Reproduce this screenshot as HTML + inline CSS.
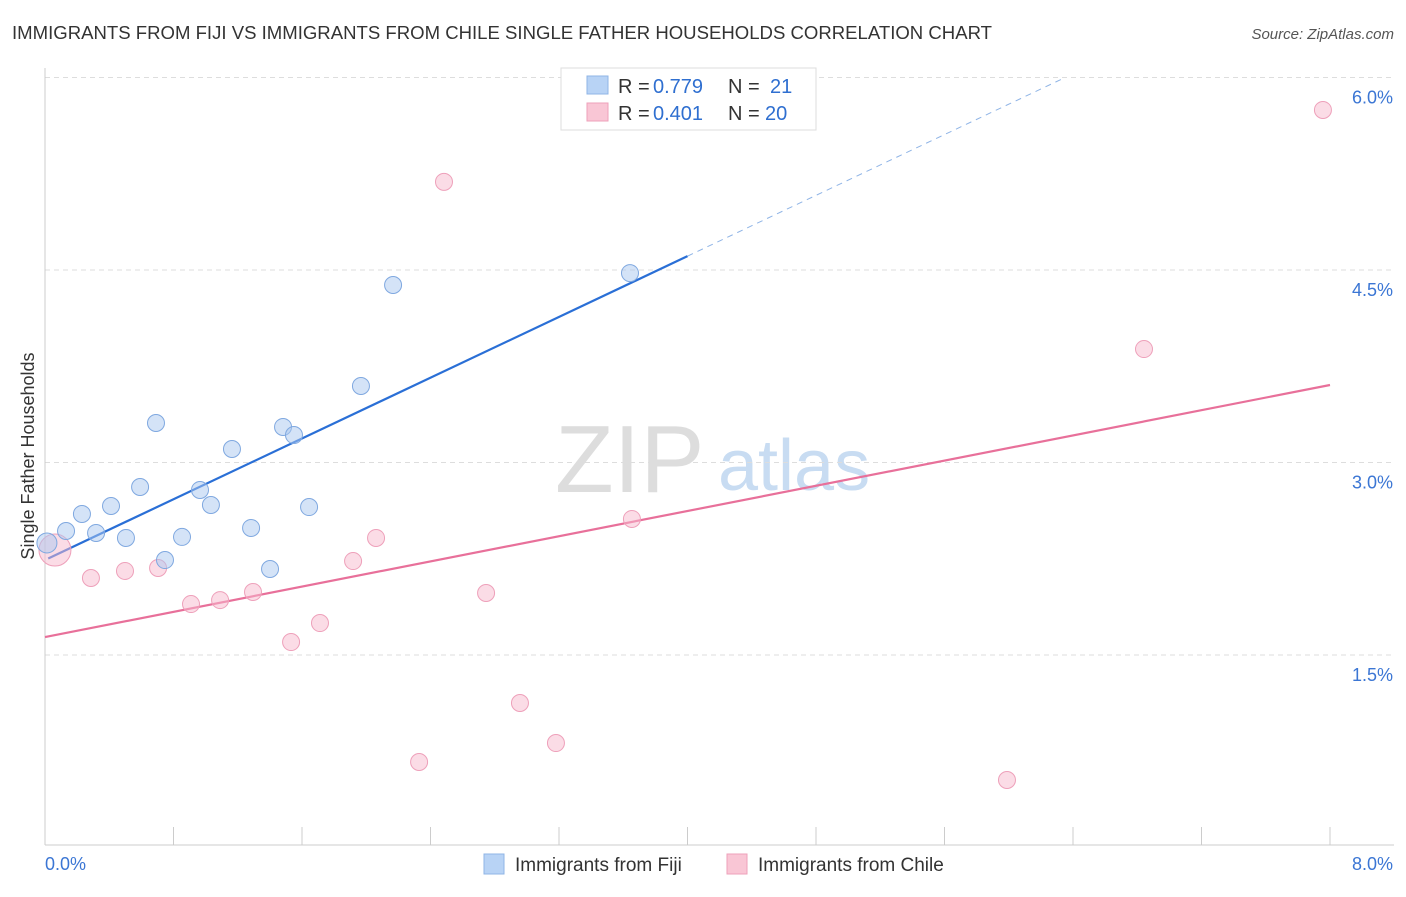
<!DOCTYPE html>
<html><head><meta charset="utf-8"><style>
body{margin:0;background:#fff;font-family:"Liberation Sans",sans-serif}
svg text{font-family:"Liberation Sans",sans-serif}
</style></head><body>
<svg id="c" width="1406" height="892">
<text x="12" y="39" font-size="18" fill="#333" textLength="980" lengthAdjust="spacingAndGlyphs">IMMIGRANTS FROM FIJI VS IMMIGRANTS FROM CHILE SINGLE FATHER HOUSEHOLDS CORRELATION CHART</text>
<text x="1394" y="39" font-size="15" fill="#555" text-anchor="end" font-style="italic">Source: ZipAtlas.com</text>
<text x="555" y="492" font-size="96" fill="#ddd" font-family="Liberation Serif">ZIP</text>
<text x="718" y="490" font-size="72" fill="#c8dcf2">atlas</text>
<text transform="translate(34,456) rotate(-90)" font-size="18" fill="#333" text-anchor="middle">Single Father Households</text>
<g id="grid"></g><g id="axes"></g><g id="lines"></g><g id="pts"></g>
<g>
<rect x="561" y="68" width="255" height="62" fill="#fff" stroke="#ddd"/>
<rect x="587" y="76" width="21" height="18" fill="#b8d3f5" stroke="#8fb4e6"/>
<rect x="587" y="103" width="21" height="18" fill="#f9c6d5" stroke="#eea0ba"/>
<text x="618" y="93" font-size="20" fill="#333">R =</text>
<text x="653" y="93" font-size="20" fill="#2f6fd0">0.779</text>
<text x="728" y="93" font-size="20" fill="#333">N =</text>
<text x="770" y="93" font-size="20" fill="#2f6fd0">21</text>
<text x="618" y="120" font-size="20" fill="#333">R =</text>
<text x="653" y="120" font-size="20" fill="#2f6fd0">0.401</text>
<text x="728" y="120" font-size="20" fill="#333">N =</text>
<text x="765" y="120" font-size="20" fill="#2f6fd0">20</text>
</g>
<g>
<rect x="484" y="854" width="20" height="20" fill="#b8d3f5" stroke="#8fb4e6"/>
<text x="515" y="871" font-size="19" fill="#333">Immigrants from Fiji</text>
<rect x="727" y="854" width="20" height="20" fill="#f9c6d5" stroke="#eea0ba"/>
<text x="758" y="871" font-size="19" fill="#333">Immigrants from Chile</text>
</g>
</svg>
<script>
const fijiX=[0.012,0.131,0.230,0.318,0.411,0.504,0.592,0.691,0.747,0.853,0.965,1.033,1.164,1.283,1.401,1.482,1.550,1.644,1.967,2.167,3.642];
const fijiY=[2.373,2.466,2.599,2.451,2.661,2.412,2.809,3.308,2.240,2.420,2.786,2.669,3.105,2.490,2.170,3.277,3.214,2.653,3.596,4.383,4.476];
const chileX=[0.062,0.286,0.498,0.704,0.909,1.090,1.295,1.532,1.712,1.918,2.061,2.329,2.484,2.746,2.957,3.181,3.654,5.989,6.842,7.956];
const chileY=[2.318,2.100,2.155,2.178,1.897,1.928,1.991,1.601,1.749,2.232,2.412,0.666,5.187,1.983,1.126,0.814,2.560,0.526,3.884,5.747];
const fijiLine=[2.240,0.592];
const chileLine=[1.640,0.2455];
const yTicks=[1.5,3.0,4.5,6.0];
const yTickLabels=["1.5%","3.0%","4.5%","6.0%"];
const xTickVals=[0,0.8,1.6,2.4,3.2,4.0,4.8,5.6,6.4,7.2,8.0];
const NS="http://www.w3.org/2000/svg";
const X=v=>45+v*1285/8, Y=v=>847.5-v*770/6;
function mk(p,t,a){const e=document.createElementNS(NS,t);for(const k in a)e.setAttribute(k,a[k]);document.getElementById(p).appendChild(e);return e;}
yTicks.forEach((v,i)=>{
 const g=mk('grid','line',{x1:45,x2:1394,y1:Y(v),y2:Y(v),stroke:'#ddd','stroke-dasharray':'5,4'});
 
 
 const t=mk('axes','text',{x:1393,y:Y(v)+26,'font-size':18,fill:'#3b76d4','text-anchor':'end'});
 t.textContent=yTickLabels[i];
 
 
});
mk('axes','line',{x1:45,x2:45,y1:68,y2:845,stroke:'#ccc'});
mk('axes','line',{x1:45,x2:1394,y1:845,y2:845,stroke:'#ccc'});
xTickVals.forEach(v=>{const l=mk('axes','line',{x1:X(v),x2:X(v),y1:827,y2:845,stroke:'#ccc'});
 
 });
const t0=mk('axes','text',{x:45,y:870,'font-size':18,fill:'#3b76d4'});t0.textContent='0.0%';


const t1=mk('axes','text',{x:1393,y:870,'font-size':18,fill:'#3b76d4','text-anchor':'end'});t1.textContent='8.0%';


const fx=v=>fijiLine[0]+fijiLine[1]*v, cx=v=>chileLine[0]+chileLine[1]*v;
const xe=(6.0-fijiLine[0])/fijiLine[1];
let l1=mk('lines','line',{x1:X(0.02),y1:Y(fx(0.02)),x2:X(4.0),y2:Y(fx(4.0)),stroke:'#2a6fd6','stroke-width':2.2});


let l2=mk('lines','line',{x1:X(4.0),y1:Y(fx(4.0)),x2:X(xe),y2:Y(6.0),stroke:'#8fb4e6','stroke-width':1,'stroke-dasharray':'6,5'});


let l3=mk('lines','line',{x1:X(0),y1:Y(cx(0)),x2:X(8),y2:Y(cx(8)),stroke:'#e8709a','stroke-width':2.2});


chileX.forEach((v,i)=>{const c=mk('pts','circle',{cx:X(v),cy:Y(chileY[i]),r:i==0?16:8.5,fill:'#f7b9cd','fill-opacity':0.5,stroke:'#eea0ba'});
 
 });
fijiX.forEach((v,i)=>{const c=mk('pts','circle',{cx:X(v),cy:Y(fijiY[i]),r:i==0?10:8.5,fill:'#aac8f0','fill-opacity':0.5,stroke:'#7fa8e0'});
 
 });
</script>
</body></html>
